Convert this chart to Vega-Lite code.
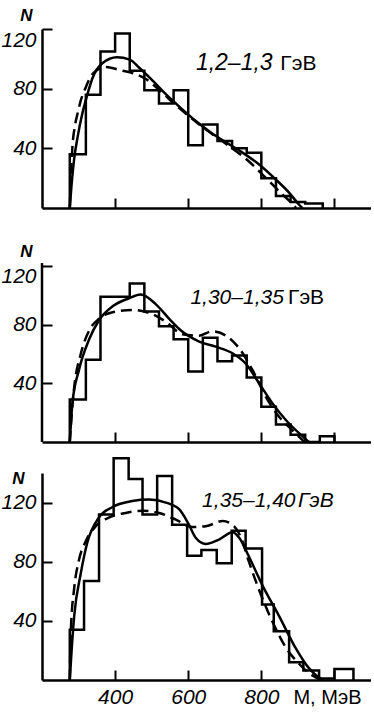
{
  "$schema": "https://vega.github.io/schema/vega-lite/v6.json",
  "background": "white",
  "padding": {"left": 0, "top": 6, "right": 0, "bottom": 0},
  "bounds": "flush",
  "spacing": 31,
  "datasets": {
    "h1": [
      {"M": 276, "N": 0}, {"M": 276, "N": 36}, {"M": 320, "N": 76}, {"M": 360, "N": 105}, {"M": 400, "N": 117},
      {"M": 440, "N": 92}, {"M": 480, "N": 79}, {"M": 520, "N": 70}, {"M": 560, "N": 79}, {"M": 600, "N": 42},
      {"M": 640, "N": 56}, {"M": 680, "N": 45}, {"M": 720, "N": 40}, {"M": 760, "N": 37}, {"M": 800, "N": 20},
      {"M": 840, "N": 8}, {"M": 880, "N": 4}, {"M": 920, "N": 3}, {"M": 968, "N": 3}, {"M": 968, "N": 0}
    ],
    "s1": [
      {"M": 276, "N": 0}, {"M": 281, "N": 16}, {"M": 288, "N": 33}, {"M": 297, "N": 47}, {"M": 310, "N": 63},
      {"M": 324, "N": 76}, {"M": 338, "N": 87}, {"M": 365, "N": 97}, {"M": 405, "N": 101}, {"M": 440, "N": 99.5},
      {"M": 466, "N": 94}, {"M": 500, "N": 86}, {"M": 540, "N": 76}, {"M": 580, "N": 67}, {"M": 620, "N": 58.5},
      {"M": 660, "N": 51}, {"M": 700, "N": 44.5}, {"M": 740, "N": 38.5}, {"M": 795, "N": 29}, {"M": 840, "N": 19},
      {"M": 877, "N": 10}, {"M": 904, "N": 2}, {"M": 912, "N": 0}
    ],
    "d1": [
      {"M": 276, "N": 0}, {"M": 279, "N": 20}, {"M": 283, "N": 40}, {"M": 290, "N": 55}, {"M": 297, "N": 63},
      {"M": 306, "N": 72}, {"M": 320, "N": 81}, {"M": 333, "N": 88}, {"M": 351, "N": 92.5}, {"M": 374, "N": 94.5},
      {"M": 397, "N": 93.5}, {"M": 420, "N": 92}, {"M": 447, "N": 90.5}, {"M": 484, "N": 86.5}, {"M": 521, "N": 79},
      {"M": 566, "N": 69}, {"M": 630, "N": 56}, {"M": 703, "N": 43}, {"M": 767, "N": 31}, {"M": 813, "N": 20},
      {"M": 858, "N": 9}, {"M": 880, "N": 4}, {"M": 895, "N": 0}
    ],
    "h2": [
      {"M": 276, "N": 0}, {"M": 276, "N": 29}, {"M": 320, "N": 56}, {"M": 360, "N": 99}, {"M": 400, "N": 99},
      {"M": 440, "N": 108}, {"M": 480, "N": 89}, {"M": 520, "N": 79}, {"M": 560, "N": 70}, {"M": 600, "N": 48},
      {"M": 640, "N": 71}, {"M": 680, "N": 55}, {"M": 720, "N": 59}, {"M": 760, "N": 44}, {"M": 800, "N": 24},
      {"M": 840, "N": 12}, {"M": 880, "N": 5}, {"M": 920, "N": 0}, {"M": 960, "N": 4}, {"M": 1000, "N": 4},
      {"M": 1000, "N": 0}
    ],
    "s2": [
      {"M": 276, "N": 0}, {"M": 283, "N": 26}, {"M": 301, "N": 49}, {"M": 329, "N": 70}, {"M": 356, "N": 83},
      {"M": 393, "N": 92.5}, {"M": 438, "N": 98}, {"M": 470, "N": 100.5}, {"M": 511, "N": 94}, {"M": 548, "N": 84},
      {"M": 580, "N": 76}, {"M": 630, "N": 68.5}, {"M": 675, "N": 65}, {"M": 721, "N": 60.5}, {"M": 757, "N": 53.5},
      {"M": 794, "N": 40}, {"M": 830, "N": 26.5}, {"M": 867, "N": 15}, {"M": 903, "N": 6}, {"M": 930, "N": 0}
    ],
    "d2": [
      {"M": 276, "N": 0}, {"M": 281, "N": 18}, {"M": 288, "N": 37}, {"M": 306, "N": 60}, {"M": 329, "N": 76},
      {"M": 356, "N": 84}, {"M": 393, "N": 88.5}, {"M": 447, "N": 90}, {"M": 493, "N": 88}, {"M": 539, "N": 82},
      {"M": 584, "N": 73.5}, {"M": 630, "N": 72.5}, {"M": 666, "N": 75.5}, {"M": 703, "N": 72.5}, {"M": 739, "N": 64},
      {"M": 776, "N": 49}, {"M": 812, "N": 31}, {"M": 849, "N": 17}, {"M": 885, "N": 8}, {"M": 918, "N": 0}
    ],
    "h3": [
      {"M": 276, "N": 0}, {"M": 276, "N": 34}, {"M": 315, "N": 67}, {"M": 356, "N": 112}, {"M": 396, "N": 150},
      {"M": 437, "N": 136}, {"M": 475, "N": 112}, {"M": 515, "N": 138}, {"M": 556, "N": 105}, {"M": 597, "N": 84},
      {"M": 636, "N": 88}, {"M": 678, "N": 79}, {"M": 719, "N": 101}, {"M": 757, "N": 89}, {"M": 802, "N": 51},
      {"M": 834, "N": 33}, {"M": 876, "N": 12}, {"M": 915, "N": 6.5}, {"M": 958, "N": 1}, {"M": 1000, "N": 7.5},
      {"M": 1052, "N": 7.5}, {"M": 1052, "N": 0}
    ],
    "s3": [
      {"M": 276, "N": 0}, {"M": 281, "N": 20}, {"M": 288, "N": 43}, {"M": 306, "N": 72}, {"M": 324, "N": 93},
      {"M": 356, "N": 110}, {"M": 393, "N": 117}, {"M": 447, "N": 121}, {"M": 493, "N": 122}, {"M": 539, "N": 120},
      {"M": 575, "N": 115.5}, {"M": 600, "N": 106}, {"M": 621, "N": 96}, {"M": 648, "N": 92}, {"M": 684, "N": 95},
      {"M": 721, "N": 100}, {"M": 740, "N": 96}, {"M": 765, "N": 84}, {"M": 803, "N": 64}, {"M": 849, "N": 43},
      {"M": 894, "N": 21.5}, {"M": 930, "N": 8}, {"M": 962, "N": 1}, {"M": 970, "N": 0}
    ],
    "d3": [
      {"M": 276, "N": 0}, {"M": 279, "N": 34}, {"M": 288, "N": 62}, {"M": 301, "N": 81}, {"M": 320, "N": 94},
      {"M": 347, "N": 104}, {"M": 384, "N": 110}, {"M": 429, "N": 113}, {"M": 475, "N": 114.5}, {"M": 520, "N": 113},
      {"M": 566, "N": 108.5}, {"M": 611, "N": 103.5}, {"M": 648, "N": 104}, {"M": 694, "N": 107.5}, {"M": 721, "N": 105},
      {"M": 745, "N": 96}, {"M": 766, "N": 80}, {"M": 800, "N": 57}, {"M": 835, "N": 37}, {"M": 867, "N": 22},
      {"M": 903, "N": 11}, {"M": 940, "N": 3}, {"M": 962, "N": 0}
    ]
  },
  "vconcat": [
    {
      "width": 329,
      "height": 179,
      "layer": [
        {
          "data": {"name": "h1"},
          "mark": {"type": "line", "interpolate": "step-after", "color": "black", "strokeWidth": 2.5},
          "encoding": {
            "x": {"field": "M", "type": "quantitative", "scale": {"domain": [200, 1100], "nice": false},
                  "axis": {"values": [400, 600, 800, 1000], "labels": false, "title": null}},
            "y": {"field": "N", "type": "quantitative", "scale": {"domain": [0, 120], "nice": false},
                  "axis": {"values": [40, 80, 120], "labelPadding": 16, "labelFlush": true, "title": "N",
                           "titleAngle": 0, "titleX": -16, "titleY": -9, "titleAlign": "center",
                           "titleBaseline": "alphabetic", "titleFontSize": 17, "titleFontStyle": "italic"}},
            "order": {"value": null}
          }
        },
        {
          "data": {"name": "s1"},
          "mark": {"type": "line", "interpolate": "monotone", "color": "black", "strokeWidth": 2.5},
          "encoding": {"x": {"field": "M", "type": "quantitative"}, "y": {"field": "N", "type": "quantitative"}}
        },
        {
          "data": {"name": "d1"},
          "mark": {"type": "line", "interpolate": "monotone", "color": "black", "strokeWidth": 2.5, "strokeDash": [11, 6]},
          "encoding": {"x": {"field": "M", "type": "quantitative"}, "y": {"field": "N", "type": "quantitative"}}
        },
        {
          "data": {"values": [{}]},
          "mark": {"type": "text", "align": "left", "baseline": "alphabetic", "fontSize": 23, "fontStyle": "italic", "font": "Liberation Sans", "color": "black"},
          "encoding": {"x": {"datum": 621}, "y": {"datum": 92.5}, "text": {"value": "1,2–1,3"}}
        },
        {
          "data": {"values": [{}]},
          "mark": {"type": "text", "align": "left", "baseline": "alphabetic", "fontSize": 21, "font": "Liberation Sans", "color": "black"},
          "encoding": {"x": {"datum": 852}, "y": {"datum": 92.5}, "text": {"value": "ГэВ"}}
        }
      ]
    },
    {
      "width": 329,
      "height": 203,
      "layer": [
        {
          "data": {"name": "h2"},
          "mark": {"type": "line", "interpolate": "step-after", "color": "black", "strokeWidth": 2.5},
          "encoding": {
            "x": {"field": "M", "type": "quantitative", "scale": {"domain": [200, 1100], "nice": false},
                  "axis": {"values": [400, 600, 800, 1000], "labels": false, "title": null}},
            "y": {"field": "N", "type": "quantitative", "scale": {"domain": [0, 138.4], "nice": false},
                  "axis": {"values": [40, 80, 120], "domain": false, "labelPadding": 16, "labelFlush": 30, "title": "N",
                           "titleAngle": 0, "titleX": -16, "titleY": 17, "titleAlign": "center",
                           "titleBaseline": "alphabetic", "titleFontSize": 17, "titleFontStyle": "italic"}},
            "order": {"value": null}
          }
        },
        {
          "data": {"values": [{}]},
          "mark": {"type": "rule", "color": "black", "strokeWidth": 2.5},
          "encoding": {"x": {"datum": 200}, "y": {"datum": 0}, "y2": {"datum": 122}}
        },
        {
          "data": {"name": "s2"},
          "mark": {"type": "line", "interpolate": "monotone", "color": "black", "strokeWidth": 2.5},
          "encoding": {"x": {"field": "M", "type": "quantitative"}, "y": {"field": "N", "type": "quantitative"}}
        },
        {
          "data": {"name": "d2"},
          "mark": {"type": "line", "interpolate": "monotone", "color": "black", "strokeWidth": 2.5, "strokeDash": [11, 6]},
          "encoding": {"x": {"field": "M", "type": "quantitative"}, "y": {"field": "N", "type": "quantitative"}}
        },
        {
          "data": {"values": [{}]},
          "mark": {"type": "text", "align": "left", "baseline": "alphabetic", "fontSize": 21, "fontStyle": "italic", "font": "Liberation Sans", "color": "black"},
          "encoding": {"x": {"datum": 606}, "y": {"datum": 94}, "text": {"value": "1,30–1,35"}}
        },
        {
          "data": {"values": [{}]},
          "mark": {"type": "text", "align": "left", "baseline": "alphabetic", "fontSize": 21, "font": "Liberation Sans", "color": "black"},
          "encoding": {"x": {"datum": 873}, "y": {"datum": 94}, "text": {"value": "ГэВ"}}
        }
      ]
    },
    {
      "width": 329,
      "height": 207,
      "layer": [
        {
          "data": {"name": "h3"},
          "mark": {"type": "line", "interpolate": "step-after", "color": "black", "strokeWidth": 2.5},
          "encoding": {
            "x": {"field": "M", "type": "quantitative", "scale": {"domain": [200, 1100], "nice": false},
                  "axis": {"values": [400, 600, 800, 1000], "labelExpr": "datum.value == 1000 ? '' : datum.label",
                           "labelPadding": 16, "title": "M, МэВ", "titleX": 285, "titleY": 23, "titleAlign": "center",
                           "titleBaseline": "alphabetic", "titleFontSize": 20, "titleFontWeight": "normal"}},
            "y": {"field": "N", "type": "quantitative", "scale": {"domain": [0, 140], "nice": false},
                  "axis": {"values": [40, 80, 120], "labelPadding": 16, "title": "N",
                           "titleAngle": 0, "titleX": -24, "titleY": 10, "titleAlign": "center",
                           "titleBaseline": "alphabetic", "titleFontSize": 17, "titleFontStyle": "italic"}},
            "order": {"value": null}
          }
        },
        {
          "data": {"name": "s3"},
          "mark": {"type": "line", "interpolate": "monotone", "color": "black", "strokeWidth": 2.5},
          "encoding": {"x": {"field": "M", "type": "quantitative"}, "y": {"field": "N", "type": "quantitative"}}
        },
        {
          "data": {"name": "d3"},
          "mark": {"type": "line", "interpolate": "monotone", "color": "black", "strokeWidth": 2.5, "strokeDash": [11, 6]},
          "encoding": {"x": {"field": "M", "type": "quantitative"}, "y": {"field": "N", "type": "quantitative"}}
        },
        {
          "data": {"values": [{}]},
          "mark": {"type": "text", "align": "left", "baseline": "alphabetic", "fontSize": 21, "fontStyle": "italic", "font": "Liberation Sans", "color": "black"},
          "encoding": {"x": {"datum": 638}, "y": {"datum": 117}, "text": {"value": "1,35–1,40"}}
        },
        {
          "data": {"values": [{}]},
          "mark": {"type": "text", "align": "left", "baseline": "alphabetic", "fontSize": 21, "fontStyle": "italic", "font": "Liberation Sans", "color": "black"},
          "encoding": {"x": {"datum": 900}, "y": {"datum": 117}, "text": {"value": "ГэВ"}}
        }
      ]
    }
  ],
  "config": {
    "view": {"stroke": null},
    "axis": {
      "grid": false,
      "domainColor": "black",
      "domainWidth": 2.5,
      "tickColor": "black",
      "tickWidth": 2,
      "tickSize": -10,
      "labelFont": "Liberation Sans",
      "labelFontSize": 21,
      "labelFontStyle": "italic",
      "labelColor": "black",
      "titleFont": "Liberation Sans",
      "titleColor": "black"
    }
  }
}
